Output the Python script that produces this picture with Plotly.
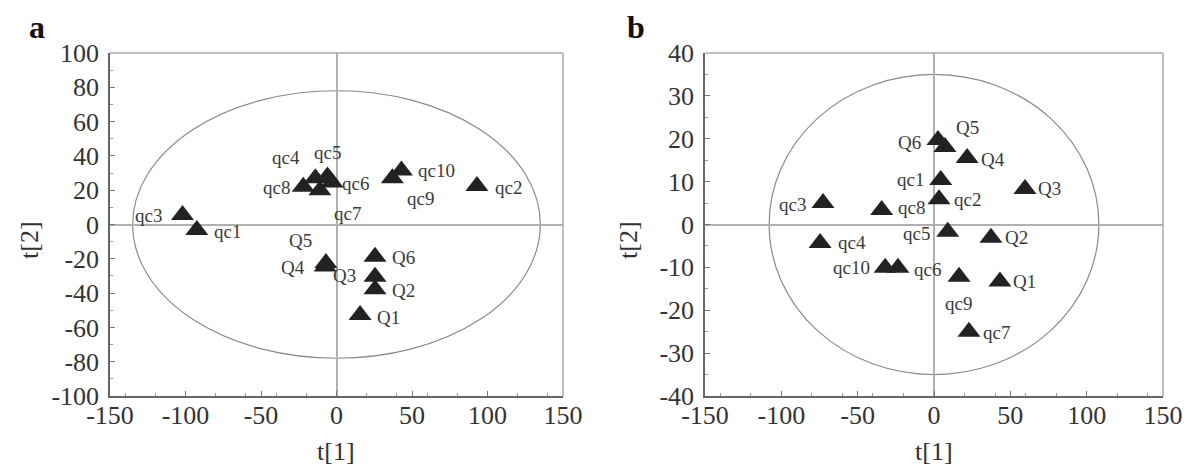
import plotly.graph_objects as go

# ---- data: panel a ----
a_labels = ["qc1", "qc2", "qc3", "qc4", "qc5", "qc6", "qc7", "qc8", "qc9", "qc10",
            "Q1", "Q2", "Q3", "Q4", "Q5", "Q6"]
a_t1 = [-92.5, 93, -102, -14, -6, -3, -11, -22, 37, 43,
        15.6, 25.5, 25.5, -7.5, -7, 25.5]
a_t2 = [-3.2, 22.5, 5.5, 27, 28, 24.5, 20, 22, 27, 31.5,
        -52.8, -37.7, -30.5, -24.5, -22.5, -18.8]

# ---- data: panel b ----
b_labels = ["qc1", "qc2", "qc3", "qc4", "qc5", "qc6", "qc7", "qc8", "qc9", "qc10",
            "Q1", "Q2", "Q3", "Q4", "Q5", "Q6"]
b_t1 = [4.4, 3.3, -72.7, -74.6, 9, -23.6, 22.9, -34.3, 16.4, -32,
        43.2, 37.3, 59.6, 21.7, 7.2, 2.6]
b_t2 = [10.4, 5.9, 5.0, -4.3, -1.7, -10.1, -25, 3.4, -12.2, -10.1,
        -13.3, -3.1, 8.3, 15.5, 18.1, 19.7]

x_ticks = [-150, -100, -50, 0, 50, 100, 150]
a_y_ticks = [-100, -80, -60, -40, -20, 0, 20, 40, 60, 80, 100]
b_y_ticks = [-40, -30, -20, -10, 0, 10, 20, 30, 40]

# ellipse (Hotelling T2) half-axes
a_ellipse = (135, 78)
b_ellipse = (108, 35)

# label pixel offsets (style; positive dy = up)
a_off = {"qc1": (31, -2), "qc2": (32, -2), "qc3": (-34, 0), "qc4": (-29, 21),
         "qc5": (0, 24), "qc6": (24, -1), "qc7": (28, -23), "qc8": (-27, -1),
         "qc9": (28, -20), "qc10": (35, 0), "Q1": (28, -2), "Q2": (28, -1),
         "Q3": (-31, 1), "Q4": (-32, -1), "Q5": (-25, 23), "Q6": (28, -1)}
b_off = {"qc1": (-30, 0), "qc2": (28, 0), "qc3": (-31, -1), "qc4": (32, 0),
         "qc5": (-31, -2), "qc6": (30, -2), "qc7": (28, -1), "qc8": (30, 2),
         "qc9": (-1, -27), "qc10": (-34, 0), "Q1": (25, 0), "Q2": (26, 0),
         "Q3": (25, 0), "Q4": (26, -1), "Q5": (23, 19), "Q6": (-28, -2)}

FONT = "Liberation Serif"
fig = go.Figure()


def add_panel(xs, ys, labels, offs, xa, ya):
    fig.add_trace(go.Scatter(
        x=xs, y=ys, mode="markers", xaxis=xa, yaxis=ya,
        marker=dict(symbol="triangle-up", size=20, color="#222222",
                    line=dict(width=0)),
        showlegend=False, hoverinfo="text", text=labels))
    for lab, x, y in zip(labels, xs, ys):
        dx, dy = offs[lab]
        fig.add_annotation(x=x, y=y, xref=xa, yref=ya, text=lab, showarrow=False,
                           xshift=dx, yshift=dy,
                           font=dict(family=FONT, size=19, color="#3a3a3a"))


add_panel(a_t1, a_t2, a_labels, a_off, "x", "y")
add_panel(b_t1, b_t2, b_labels, b_off, "x2", "y2")

ydom = [1 - 396 / 469, 1 - 53 / 469]
axis_common = dict(
    automargin=False,
    showgrid=False, showline=True, linecolor="#666666", linewidth=1.5,
    zeroline=True, zerolinecolor="#b0b0b0", zerolinewidth=1.5,
    ticks="inside", ticklen=5, tickcolor="#777777",
    minor=dict(ticks="inside", ticklen=3, tickcolor="#999999", nticks=5),
    tickfont=dict(family=FONT, size=26, color="#333333"),
)


def tt(vals):
    return [str(v) for v in vals]


fig.update_layout(
    width=1189, height=469, margin=dict(l=0, r=0, t=0, b=0),
    paper_bgcolor="white", plot_bgcolor="white",
    xaxis=dict(domain=[110 / 1189, 563 / 1189], range=[-150, 150],
               tickvals=x_ticks, ticktext=tt(x_ticks), anchor="y",
               ticklabelstandoff=-5, **axis_common),
    yaxis=dict(domain=ydom, range=[-100, 100], tickvals=a_y_ticks,
               ticktext=tt(a_y_ticks), anchor="x", ticklabelstandoff=4,
               **axis_common),
    xaxis2=dict(domain=[705 / 1189, 1163 / 1189], range=[-150, 150],
                tickvals=x_ticks, ticktext=tt(x_ticks), anchor="y2",
                ticklabelstandoff=-5, **axis_common),
    yaxis2=dict(domain=ydom, range=[-40, 40], tickvals=b_y_ticks,
                ticktext=tt(b_y_ticks), anchor="x2", ticklabelstandoff=4,
                **axis_common),
)

# ellipses and frame
for (rx, ry), xa, ya in [(a_ellipse, "x", "y"), (b_ellipse, "x2", "y2")]:
    fig.add_shape(type="circle", xref=xa, yref=ya, x0=-rx, x1=rx, y0=-ry, y1=ry,
                  line=dict(color="#8a8a8a", width=1.2), layer="below")
    fig.add_shape(type="line", xref=xa + " domain", yref=ya + " domain",
                  x0=0, x1=1, y0=1, y1=1, line=dict(color="#aaaaaa", width=1.5))
    fig.add_shape(type="line", xref=xa + " domain", yref=ya + " domain",
                  x0=1, x1=1, y0=0, y1=1, line=dict(color="#aaaaaa", width=1.5))

# panel letters and axis titles
for letter, px in [("a", 37), ("b", 636)]:
    fig.add_annotation(x=px / 1189, y=1 - 27 / 469, xref="paper", yref="paper",
                       xanchor="center", yanchor="middle",
                       text="<b>" + letter + "</b>", showarrow=False,
                       font=dict(family=FONT, size=32, color="#111111"))
for cx in [336, 934]:
    fig.add_annotation(x=cx / 1189, y=1 - 451 / 469, xref="paper", yref="paper",
                       xanchor="center", yanchor="middle",
                       text="t[1]", showarrow=False,
                       font=dict(family=FONT, size=26, color="#333333"))
for cx in [29, 628]:
    fig.add_annotation(x=cx / 1189, y=1 - 240 / 469, xref="paper", yref="paper",
                       xanchor="center", yanchor="middle",
                       text="t[2]", showarrow=False, textangle=-90,
                       font=dict(family=FONT, size=26, color="#333333"))

fig.write_html("out.html")
